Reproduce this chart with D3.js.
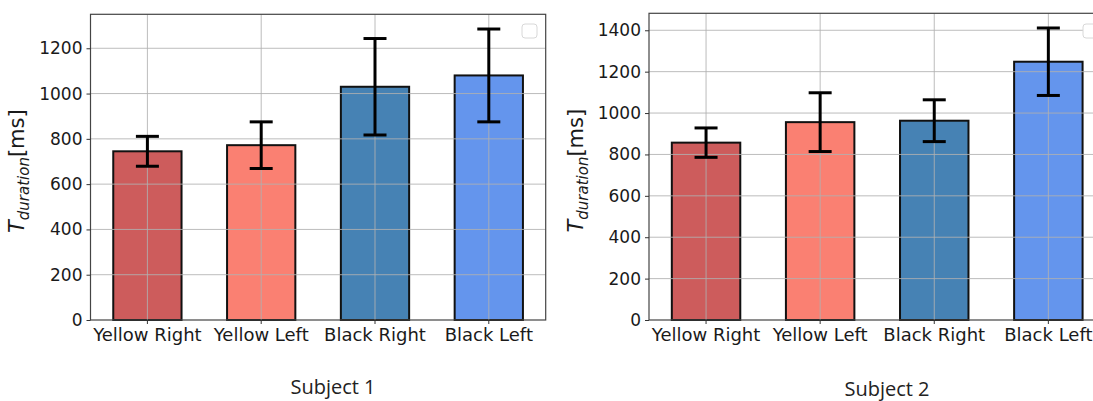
<!DOCTYPE html>
<html><head><meta charset="utf-8">
<script src="https://cdn.jsdelivr.net/npm/d3@7"></script>
<style>body{margin:0;background:#fff}svg{display:block}</style>
</head><body><svg id="c" width="1093" height="401"></svg>
<script>
const categories = ["Yellow Right", "Yellow Left", "Black Right", "Black Left"];
const colors = ["#CD5C5C", "#FA8072", "#4682B4", "#6495ED"];
const subject1Means = [745, 772, 1030, 1080];
const subject1Errs = [66, 103, 213, 205];
const subject2Means = [857, 956, 963, 1248];
const subject2Errs = [71, 142, 101, 163];
const subject1Ticks = [0, 200, 400, 600, 800, 1000, 1200];
const subject2Ticks = [0, 200, 400, 600, 800, 1000, 1200, 1400];
const titles = ["Subject 1", "Subject 2"];

const svg = d3.select("#c");
const panels = [
  {means: subject1Means, errs: subject1Errs, ticks: subject1Ticks, ymax: 1350, x0: 90.5, x1: 545.7, top: 14.3, labelX: 24, title: titles[0], titleX: 333, titleY: 394},
  {means: subject2Means, errs: subject2Errs, ticks: subject2Ticks, ymax: 1482, x0: 649, x1: 1105.4, top: 13.3, labelX: 583, title: titles[1], titleX: 887, titleY: 396}
];
const bottom = 320;

panels.forEach((p, pi) => {
  const g = svg.append("g");
  const x = d3.scaleBand().domain(categories).range([p.x0, p.x1]).paddingInner(0.4).paddingOuter(0.2);
  const y = d3.scaleLinear().domain([0, p.ymax]).range([bottom, p.top]);

  g.selectAll("rect.bar").data(categories).join("rect")
    .attr("x", d => x(d)).attr("width", x.bandwidth())
    .attr("y", (d, i) => y(p.means[i])).attr("height", (d, i) => bottom - y(p.means[i]))
    .attr("fill", (d, i) => colors[i]).attr("stroke", "#111").attr("stroke-width", 2);

  g.selectAll("line.gy").data(p.ticks.filter(t => t > 0)).join("line")
    .attr("x1", p.x0).attr("x2", Math.min(p.x1, 1093)).attr("y1", d => y(d)).attr("y2", d => y(d))
    .attr("stroke", "#b0b0b0").attr("stroke-opacity", 0.85).attr("stroke-width", 1);
  g.selectAll("line.gx").data(categories).join("line")
    .attr("x1", d => x(d) + x.bandwidth() / 2).attr("x2", d => x(d) + x.bandwidth() / 2)
    .attr("y1", p.top).attr("y2", bottom)
    .attr("stroke", "#b0b0b0").attr("stroke-opacity", 0.85).attr("stroke-width", 1);

  const cap = 11.5;
  categories.forEach((c, i) => {
    const cx = x(c) + x.bandwidth() / 2;
    const lo = y(p.means[i] - p.errs[i]), hi = y(p.means[i] + p.errs[i]);
    g.append("line").attr("x1", cx).attr("x2", cx).attr("y1", lo).attr("y2", hi).attr("stroke", "#000").attr("stroke-width", 3);
    [lo, hi].forEach(yy => g.append("line").attr("x1", cx - cap).attr("x2", cx + cap).attr("y1", yy).attr("y2", yy).attr("stroke", "#000").attr("stroke-width", 3));
  });

  g.append("rect").attr("x", p.x0).attr("y", p.top).attr("width", p.x1 - p.x0).attr("height", bottom - p.top)
    .attr("fill", "none").attr("stroke", "#444").attr("stroke-width", 1.2);

  const ya = g.append("g").attr("transform", `translate(${p.x0},0)`)
    .call(d3.axisLeft(y).tickValues(p.ticks).tickSize(4).tickPadding(4).tickFormat(d3.format("d")));
  ya.select(".domain").remove();
  ya.selectAll("text").attr("font-family", "DejaVu Sans").attr("font-size", 17).attr("fill", "#1a1a1a");
  ya.selectAll("line").attr("stroke", "#333");
  const xa = g.append("g").attr("transform", `translate(0,${bottom})`)
    .call(d3.axisBottom(x).tickSize(4).tickPadding(4));
  xa.select(".domain").remove();
  xa.selectAll("text").attr("font-family", "DejaVu Sans").attr("font-size", 18).attr("fill", "#1a1a1a");
  xa.selectAll("line").attr("stroke", "#333");

  const lx = pi === 0 ? 522 : 1083;
  g.append("rect").attr("x", lx).attr("y", 24).attr("width", 15).attr("height", 14).attr("rx", 3)
    .attr("fill", "#fff").attr("stroke", "#d8d8d8").attr("stroke-width", 1);

  const cy = (p.top + bottom) / 2;
  const lab = g.append("text").attr("transform", `translate(${p.labelX},${cy + 4}) rotate(-90)`)
    .attr("text-anchor", "middle").attr("font-family", "DejaVu Sans").attr("font-size", 21).attr("fill", "#1a1a1a");
  lab.append("tspan").attr("font-style", "italic").text("T");
  lab.append("tspan").attr("font-style", "italic").attr("font-size", 15).attr("dy", 5).text("duration");
  lab.append("tspan").attr("dy", -5).text("[ms]");

  g.append("text").attr("x", p.titleX).attr("y", p.titleY).attr("text-anchor", "middle")
    .attr("font-family", "Open Sans").attr("font-size", 20).attr("fill", "#222").text(p.title);
});
</script></body></html>
